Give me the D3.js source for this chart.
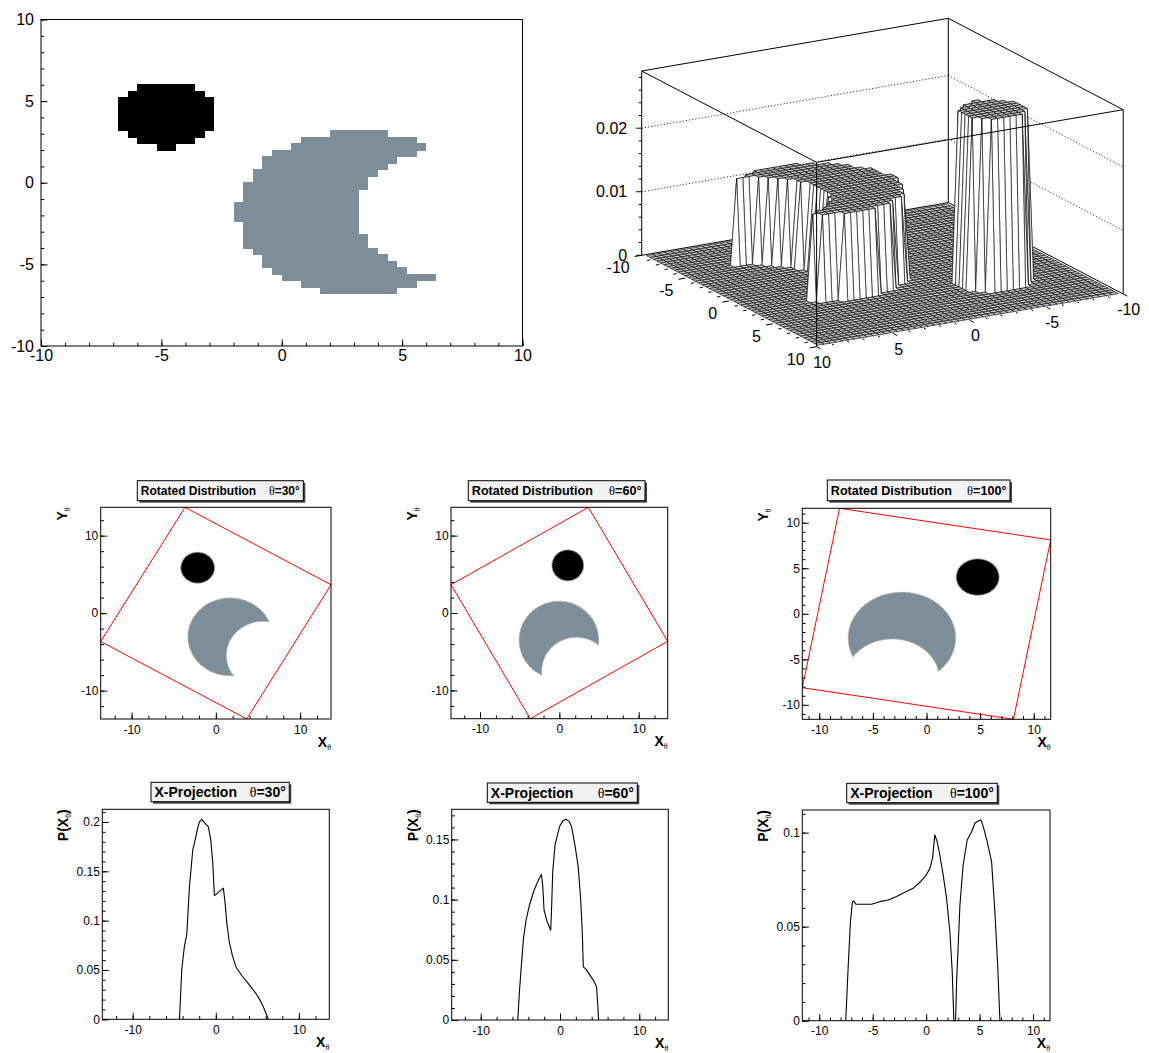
<!DOCTYPE html>
<html>
<head>
<meta charset="utf-8">
<script src="https://cdn.jsdelivr.net/npm/d3@7"></script>
<style>
body { margin: 0; background: #fff; }
svg text { font-family: "Liberation Sans", Arial, Helvetica, sans-serif; }
</style>
</head>
<body>
<svg id="canvas" width="1149" height="1053"></svg>
<script>
// ---- data ----

// 2D histogram, 50 x 50 bins on [-10,10]; runs are [yBin, firstXBin, lastXBin]
var binW = 0.4;
var nBins = 50;
var blackRuns = [[39,10,15],[38,9,16],[37,8,17],[36,8,17],[35,8,17],[34,8,17],[33,8,17],
                 [32,9,16],[31,10,15],[30,12,13]];
var grayRuns = [[32,30,35],[31,27,38],[30,26,39],[29,24,38],[28,23,36],[27,23,35],[26,22,34],
                [25,22,33],[24,21,33],[23,21,32],[22,21,32],[21,20,32],[20,20,32],[19,20,32],
                [18,21,32],[17,21,32],[16,21,33],[15,21,33],[14,22,34],[13,23,35],[12,23,36],
                [11,24,37],[10,25,40],[9,27,38],[8,29,36]];
var blackLevel = 0.027;
var grayLevel = 0.0135;
var zMax = 0.029;
var zTicks = [0, 0.01, 0.02];
var axisTicks20 = [-10, -5, 0, 5, 10];

// underlying shapes of the distribution
var thetas = [30, 60, 100];
var blobCircle = {cx: -4.8, cy: 4.0, r: 2.0};
var crescentOuter = {cx: 3.0, cy: -1.8, r: 5.0};
var crescentInner = {cx: 7.6, cy: -1.9, r: 4.4};

// x-projections [x, P(x)]
var proj30 = [[-4.37,0],[-4.09,0.0512],[-3.77,0.0745],[-3.49,0.0863],[-3.17,0.1347],[-2.77,0.1716],
  [-2.49,0.1816],[-2.21,0.193],[-1.97,0.2],[-1.68,0.2027],[-1.37,0.1993],[-0.89,0.195],[-0.6,0.1816],
  [-0.36,0.158],[-0.17,0.1254],[0.31,0.1287],[0.91,0.133],[1.12,0.118],[1.32,0.098],[1.6,0.0796],
  [2.0,0.0645],[2.44,0.0528],[3.12,0.0444],[3.92,0.0361],[4.84,0.0261],[5.32,0.0194],[5.72,0.0127],
  [6.2,0.0026],[6.32,0]];
var proj60 = [[-5.32,0],[-5.12,0.0235],[-4.9,0.0429],[-4.61,0.0677],[-4.28,0.0829],[-3.86,0.0953],
  [-3.36,0.1059],[-2.93,0.1133],[-2.6,0.118],[-2.35,0.1208],[-2.18,0.112],[-2.01,0.0912],[-1.68,0.0829],
  [-1.17,0.0746],[-1.05,0.0953],[-0.92,0.1229],[-0.63,0.1451],[-0.34,0.1534],[0.0,0.1617],[0.42,0.1658],
  [0.75,0.1667],[1.17,0.165],[1.47,0.1603],[1.89,0.1451],[2.3,0.1271],[2.6,0.1009],[2.81,0.0732],
  [2.94,0.0442],[3.27,0.0423],[3.77,0.0373],[4.32,0.0318],[4.61,0.0276],[4.74,0.0152],[4.87,0]];
var proj100 = [[-7.52,0],[-7.3,0.0279],[-7.08,0.0527],[-6.89,0.0633],[-6.77,0.0637],[-6.58,0.0619],
  [-5.9,0.0619],[-5.11,0.0619],[-4.34,0.0633],[-3.56,0.0642],[-2.77,0.066],[-1.99,0.0683],[-1.22,0.0704],
  [-0.59,0.0736],[-0.03,0.0771],[0.35,0.081],[0.6,0.0864],[0.81,0.0988],[1.03,0.0952],[1.28,0.0881],
  [1.59,0.0775],[1.91,0.0651],[2.22,0.0473],[2.44,0.026],[2.59,0],[2.75,0],[2.85,0.0207],[3.16,0.0615],
  [3.46,0.0828],[3.84,0.0961],[4.25,0.1005],[4.56,0.105],[4.87,0.1062],[5.12,0.1067],[5.34,0.1032],
  [5.71,0.0952],[6.12,0.0846],[6.43,0.058],[6.69,0.0296],[6.9,0]];
var projections = [proj30, proj60, proj100];
var projYTicks = [[0,0.05,0.1,0.15,0.2],[0,0.05,0.1,0.15],[0,0.05,0.1]];
var rotXTicks = [[-10,0,10],[-10,0,10],[-10,-5,0,5,10]];
var rotMinorStep = [2, 2, 1];

// ---- layout ----
var rotFrames = [
  {x0:100.7, x1:331, y0:507.3, y1:719},
  {x0:451, x1:667.7, y0:507.3, y1:718.7},
  {x0:802.3, x1:1050.7, y0:508.3, y1:719.3}];
var projFrames = [
  {x0:102.3, x1:329.3, y0:809.3, y1:1019.3},
  {x0:451.7, x1:668.3, y0:809.3, y1:1020},
  {x0:802.3, x1:1050, y0:810, y1:1020.7}];
var rotTitles = [
  {x0:137.3, x1:303.3, y0:480.7, y1:500.7, fs:12},
  {x0:468.3, x1:645, y0:480.7, y1:500.7, fs:12.6},
  {x0:827.3, x1:1010, y0:480, y1:500.7, fs:12.6}];
var projTitles = [
  {x0:151, x1:289.3, y0:782.3, y1:801.7, fs:14},
  {x0:487.3, x1:637.3, y0:783, y1:802.3, fs:14},
  {x0:846.7, x1:997.3, y0:783.3, y1:802.7, fs:14}];

var GRAY = "#7d8e98";
var svg = d3.select("#canvas");

function bin_cells()
{
    var cells = [];
    blackRuns.forEach(function(r) { cells.push({j: r[0], i0: r[1], i1: r[2], level: blackLevel, color: "#000"}); });
    grayRuns.forEach(function(r) { cells.push({j: r[0], i0: r[1], i1: r[2], level: grayLevel, color: GRAY}); });
    return cells;
}

function frame(g, fr)
{
    g.append("rect").attr("x", fr.x0).attr("y", fr.y0)
        .attr("width", fr.x1 - fr.x0).attr("height", fr.y1 - fr.y0)
        .attr("fill", "none").attr("stroke", "#000").attr("stroke-width", 1);
}

// ROOT-like axes: ticks inside the frame, minor ticks unlabeled
function axes(g, x, y, fr, o)
{
    var fmt = function(d) { return String(d); };
    var bx = g.append("g").attr("transform", "translate(0," + fr.y1 + ")");
    bx.call(d3.axisBottom(x).tickValues(o.xMinor).tickSizeInner(-o.tl / 2).tickSizeOuter(0).tickFormat(""));
    bx.append("g").call(d3.axisBottom(x).tickValues(o.xMajor).tickSizeInner(-o.tl).tickSizeOuter(0)
        .tickPadding(o.xPad).tickFormat(fmt));
    var ly = g.append("g").attr("transform", "translate(" + fr.x0 + ",0)");
    ly.call(d3.axisLeft(y).tickValues(o.yMinor).tickSizeInner(-o.tl / 2).tickSizeOuter(0).tickFormat(""));
    ly.append("g").call(d3.axisLeft(y).tickValues(o.yMajor).tickSizeInner(-o.tl).tickSizeOuter(0)
        .tickPadding(o.yPad).tickFormat(fmt));
    [bx, ly].forEach(function(a) {
        a.selectAll(".domain").remove();
        a.selectAll("text").attr("font-size", o.fs).attr("fill", "#000");
        a.selectAll("g").attr("font-size", o.fs);
    });
}

function ticks_between(a, b, step)
{
    return d3.range(Math.ceil(a / step - 1e-9), Math.floor(b / step + 1e-9) + 1).map(function(k) { return +(k * step).toFixed(6); });
}

// ---------- top left: 2D histogram drawn as coloured cells ----------
function draw_hist2d()
{
    var fr = {x0: 41, x1: 522.5, y0: 19.5, y1: 346};
    var x = d3.scaleLinear().domain([-10, 10]).range([fr.x0, fr.x1]);
    var y = d3.scaleLinear().domain([-10, 10]).range([fr.y1, fr.y0]);
    var g = svg.append("g");

    g.append("g").attr("shape-rendering", "crispEdges")
        .selectAll("rect").data(bin_cells()).join("rect")
        .attr("x", function(d) { return x(-10 + d.i0 * binW); })
        .attr("width", function(d) { return x(-10 + (d.i1 + 1) * binW) - x(-10 + d.i0 * binW); })
        .attr("y", function(d) { return y(-10 + (d.j + 1) * binW) - 0.5; })
        .attr("height", function(d) { return y(-10 + d.j * binW) - y(-10 + (d.j + 1) * binW) + 1; })
        .attr("fill", function(d) { return d.color; });

    frame(g, fr);
    axes(g, x, y, fr, {xMajor: axisTicks20, xMinor: d3.range(-10, 11), yMajor: axisTicks20,
        yMinor: d3.range(-10, 11), tl: 6.5, fs: 16, xPad: 4, yPad: 7});
}

// ---------- top right: surface view of the same histogram ----------
function draw_lego()
{
    var Lc = [641.7, 255.3], Fc = [816.6, 346.7], Rc = [1123.2, 294.0];
    var fx = d3.scaleLinear().domain([10, -10]).range([0, 1]);   // along F -> R
    var fy = d3.scaleLinear().domain([10, -10]).range([0, 1]);   // along F -> L
    var zs = d3.scaleLinear().domain([0, zMax]).range([0, 184.3]);
    function P(xv, yv, zv) {
        var b = fx(xv), a = fy(yv);
        return [Fc[0] + a * (Lc[0] - Fc[0]) + b * (Rc[0] - Fc[0]),
                Fc[1] + a * (Lc[1] - Fc[1]) + b * (Rc[1] - Fc[1]) - zs(zv)];
    }
    var g = svg.append("g");
    function seg(p, q, dash) {
        g.append("line").attr("x1", p[0]).attr("y1", p[1]).attr("x2", q[0]).attr("y2", q[1])
            .attr("stroke", "#000").attr("stroke-width", dash ? 0.8 : 1)
            .attr("stroke-dasharray", dash ? "1.2 2" : null);
    }
    var lo = -10, hi = 10;
    // back of the box
    seg(P(hi, lo, 0), P(lo, lo, 0)); seg(P(lo, lo, 0), P(lo, hi, 0));
    seg(P(lo, lo, 0), P(lo, lo, zMax));
    seg(P(hi, lo, zMax), P(lo, lo, zMax)); seg(P(lo, lo, zMax), P(lo, hi, zMax));
    seg(P(hi, lo, 0), P(hi, lo, zMax)); seg(P(lo, hi, 0), P(lo, hi, zMax));
    zTicks.slice(1).forEach(function(z) {
        seg(P(hi, lo, z), P(lo, lo, z), true); seg(P(lo, lo, z), P(lo, hi, z), true);
    });

    // z axis on the left vertical edge
    ticks_between(0, 0.028, 0.002).forEach(function(z) {
        var p = P(hi, lo, z);
        var major = zTicks.some(function(t) { return Math.abs(t - z) < 1e-9; });
        seg([p[0] - (major ? 5.5 : 3), p[1]], p);
    });
    zTicks.forEach(function(z) {
        var p = P(hi, lo, z);
        g.append("text").attr("x", p[0] - 14.5).attr("y", p[1]).attr("dy", "0.35em")
            .attr("text-anchor", "end").attr("font-size", 16).text(String(z));
    });

    // surface through bin centres
    var val = d3.range(nBins).map(function() { return new Array(nBins).fill(0); });
    bin_cells().forEach(function(c) {
        for (var i = c.i0; i <= c.i1; i++) val[i][c.j] = c.level;
    });
    var cx = d3.range(nBins).map(function(i) { return -10 + binW * (i + 0.5); });
    var quads = [];
    for (var i = 0; i < nBins - 1; i++) {
        for (var j = 0; j < nBins - 1; j++) {
            var nodes = [[i, j], [i + 1, j], [i + 1, j + 1], [i, j + 1]];
            var zv = nodes.map(function(n) { return val[n[0]][n[1]]; });
            var pts = nodes.map(function(n, k) { return P(cx[n[0]], cx[n[1]], zv[k]); });
            var depth = P((cx[i] + cx[i + 1]) / 2, (cx[j] + cx[j + 1]) / 2, 0)[1];
            quads.push({pts: pts, depth: depth, flat: d3.max(zv) === d3.min(zv)});
        }
    }
    quads.sort(function(a, b) { return a.depth - b.depth; });
    g.append("g").selectAll("path").data(quads).join("path")
        .attr("d", function(d) { return "M" + d.pts.map(function(p) { return p[0].toFixed(2) + "," + p[1].toFixed(2); }).join("L") + "Z"; })
        .attr("fill", function(d) { return d.flat ? "#c4c4c4" : "#fff"; })
        .attr("stroke", "#000").attr("stroke-width", 0.6)
        .attr("stroke-linejoin", "round");

    // front of the box
    seg(P(hi, lo, zMax), P(hi, hi, zMax)); seg(P(hi, hi, zMax), P(lo, hi, zMax));
    seg(P(hi, hi, 0), P(hi, hi, zMax));

    // ground axes: y along the left edge, x along the right edge
    d3.range(-10, 11).forEach(function(v) {
        var major = v % 5 === 0, len = major ? 0.45 : 0.22;
        seg(P(hi, v, 0), P(hi + len, v, 0));
        seg(P(v, hi, 0), P(v, hi + len, 0));
    });
    axisTicks20.forEach(function(v) {
        var p = P(hi, v, 0);
        g.append("text").attr("x", p[0] - 12).attr("y", p[1] + 18).attr("text-anchor", "end")
            .attr("font-size", 16).text(String(v));
        var q = P(v, hi, 0);
        g.append("text").attr("x", q[0] + 5.5).attr("y", q[1] + 21).attr("text-anchor", "middle")
            .attr("font-size", 16).text(String(v));
    });
}

function rotate(p, theta)
{
    var t = theta * Math.PI / 180, c = Math.cos(t), s = Math.sin(t);
    return [p[0] * c + p[1] * s, -p[0] * s + p[1] * c];
}

function circle_pts(c, a0, a1, n)
{
    return d3.range(n + 1).map(function(k) {
        var a = a0 + (a1 - a0) * k / n;
        return [c.cx + c.r * Math.cos(a), c.cy + c.r * Math.sin(a)];
    });
}

function crescent_pts()
{
    var o = crescentOuter, q = crescentInner;
    var dx = q.cx - o.cx, dy = q.cy - o.cy, d = Math.hypot(dx, dy);
    var a = (o.r * o.r - q.r * q.r + d * d) / (2 * d), h = Math.sqrt(o.r * o.r - a * a);
    var mx = o.cx + a * dx / d, my = o.cy + a * dy / d;
    var p1 = [mx - h * dy / d, my + h * dx / d];
    var p2 = [mx + h * dy / d, my - h * dx / d];
    var ao1 = Math.atan2(p1[1] - o.cy, p1[0] - o.cx), ao2 = Math.atan2(p2[1] - o.cy, p2[0] - o.cx);
    var ai1 = Math.atan2(p1[1] - q.cy, p1[0] - q.cx), ai2 = Math.atan2(p2[1] - q.cy, p2[0] - q.cx);
    while (ao2 < ao1) ao2 += 2 * Math.PI;
    while (ai2 < ai1) ai2 += 2 * Math.PI;
    return circle_pts(o, ao1, ao2, 140).concat(circle_pts(q, ai2, ai1, 90));
}

function title_box(t, main, theta)
{
    var g = svg.append("g");
    g.append("rect").attr("x", t.x0 + 2).attr("y", t.y0 + 2)
        .attr("width", t.x1 - t.x0).attr("height", t.y1 - t.y0).attr("fill", "#444");
    g.append("rect").attr("x", t.x0).attr("y", t.y0)
        .attr("width", t.x1 - t.x0).attr("height", t.y1 - t.y0)
        .attr("fill", "#f2f2f2").attr("stroke", "#000").attr("stroke-width", 1);
    var base = (t.y0 + t.y1) / 2 + t.fs * 0.36;
    g.append("text").attr("x", t.x0 + 3.5).attr("y", base).attr("font-size", t.fs)
        .attr("font-weight", "bold").text(main);
    var tt = g.append("text").attr("x", t.x1 - 3.5).attr("y", base).attr("font-size", t.fs)
        .attr("text-anchor", "end");
    tt.append("tspan").style("font-family", "'Liberation Serif', serif").text("θ");
    tt.append("tspan").attr("font-weight", "bold").text("=" + theta + "°");
}

function x_title(g, fr)
{
    var t = g.append("text").attr("x", fr.x1).attr("y", fr.y1 + 27.5).attr("text-anchor", "end")
        .attr("font-size", 14).attr("font-weight", "bold");
    t.append("tspan").text("X");
    t.append("tspan").attr("font-size", 8).attr("font-weight", "normal").attr("dy", 3)
        .style("font-family", "'Liberation Serif', serif").text("θ");
}

function y_title(g, fr, pre, post)
{
    var t = g.append("text").attr("transform", "translate(" + (fr.x0 - 34) + "," + fr.y0 + ") rotate(-90)")
        .attr("text-anchor", "end").attr("font-size", 14).attr("font-weight", "bold");
    t.append("tspan").text(pre);
    t.append("tspan").attr("font-size", 8).attr("font-weight", "normal").attr("dy", 3)
        .style("font-family", "'Liberation Serif', serif").text("θ");
    if (post) t.append("tspan").attr("dy", -3).text(post);
}

// ---------- middle row: rotated distributions ----------
function draw_rotated(k)
{
    var theta = thetas[k], fr = rotFrames[k];
    var t = theta * Math.PI / 180;
    var ext = 10 * (Math.abs(Math.cos(t)) + Math.abs(Math.sin(t)));
    var x = d3.scaleLinear().domain([-ext, ext]).range([fr.x0, fr.x1]);
    var y = d3.scaleLinear().domain([-ext, ext]).range([fr.y1, fr.y0]);
    var g = svg.append("g");
    var clipId = "rclip" + k;
    g.append("clipPath").attr("id", clipId).append("rect")
        .attr("x", fr.x0).attr("y", fr.y0).attr("width", fr.x1 - fr.x0).attr("height", fr.y1 - fr.y0);
    var inner = g.append("g").attr("clip-path", "url(#" + clipId + ")");
    var line = d3.line().x(function(p) { return x(p[0]); }).y(function(p) { return y(p[1]); });
    function rot(pts) { return pts.map(function(p) { return rotate(p, theta); }); }

    inner.append("path").attr("d", line(rot(crescent_pts())) + "Z")
        .attr("fill", GRAY).attr("stroke", "#a4a69c").attr("stroke-width", 1.3).attr("stroke-dasharray", "1.2 0.8");
    inner.append("path").attr("d", line(rot(circle_pts(blobCircle, 0, 2 * Math.PI, 120))) + "Z")
        .attr("fill", "#000").attr("stroke", "#a9aaa0").attr("stroke-width", 1.2).attr("stroke-dasharray", "1.2 0.8");
    inner.append("path").attr("d", line(rot([[-10, -10], [10, -10], [10, 10], [-10, 10]])) + "Z")
        .attr("fill", "none").attr("stroke", "#ff0000").attr("stroke-width", 1);

    frame(g, fr);
    var st = rotMinorStep[k];
    axes(g, x, y, fr, {xMajor: rotXTicks[k], xMinor: ticks_between(-ext, ext, st), yMajor: rotXTicks[k],
        yMinor: ticks_between(-ext, ext, st), tl: 6.5, fs: 12, xPad: 6, yPad: 2.4});
    x_title(g, fr);
    y_title(g, fr, "Y", null);
    title_box(rotTitles[k], "Rotated Distribution", theta);
}

// ---------- bottom row: x projections ----------
function draw_projection(k)
{
    var theta = thetas[k], fr = projFrames[k], data = projections[k];
    var t = theta * Math.PI / 180;
    var ext = 10 * (Math.abs(Math.cos(t)) + Math.abs(Math.sin(t)));
    var ymax = 1.05 * d3.max(data, function(d) { return d[1]; });
    var x = d3.scaleLinear().domain([-ext, ext]).range([fr.x0, fr.x1]);
    var y = d3.scaleLinear().domain([0, ymax]).range([fr.y1, fr.y0]);
    var g = svg.append("g");

    g.append("path").datum(data)
        .attr("d", d3.line().x(function(d) { return x(d[0]); }).y(function(d) { return y(d[1]); }))
        .attr("fill", "none").attr("stroke", "#000").attr("stroke-width", 1.1)
        .attr("stroke-linejoin", "round");

    frame(g, fr);
    var st = rotMinorStep[k];
    axes(g, x, y, fr, {xMajor: rotXTicks[k], xMinor: ticks_between(-ext, ext, st), yMajor: projYTicks[k],
        yMinor: ticks_between(0, ymax, 0.01), tl: 6.5, fs: 12, xPad: 6, yPad: 2.4});
    x_title(g, fr);
    y_title(g, fr, "P(X", ")");
    title_box(projTitles[k], "X-Projection", theta);
}

draw_hist2d();
draw_lego();
thetas.forEach(function(th, k) { draw_rotated(k); draw_projection(k); });
</script>
</body>
</html>
